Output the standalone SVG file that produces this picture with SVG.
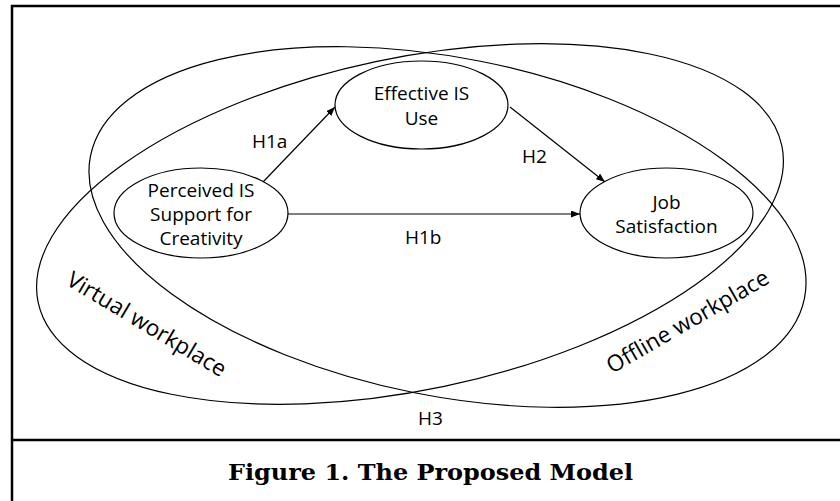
<svg xmlns="http://www.w3.org/2000/svg" width="840" height="501" viewBox="0 0 840 501">
<defs>
<style>
.frame{stroke:#000;stroke-width:2.5;fill:none}
.ell{fill:none;stroke:#000;stroke-width:1.2}
.node{fill:#fff;stroke:#000;stroke-width:1.2}
.t{font-family:"Open Sans","Liberation Sans",sans-serif;font-size:19px;fill:#000}
.big{font-size:22.5px}
.c{text-anchor:middle}
.edge{stroke:#000;stroke-width:1.2;fill:none;marker-end:url(#ah)}
.cap{font-family:"DejaVu Serif","Liberation Serif",serif;font-weight:bold;font-size:22px;fill:#000;text-anchor:middle}
</style>
<marker id="ah" markerUnits="userSpaceOnUse" markerWidth="9" markerHeight="7" refX="9" refY="3.5" orient="auto">
<path d="M0,0 L9,3.5 L0,7 z" fill="#000"/>
</marker>
</defs>
<rect width="840" height="501" fill="#fff"/>
<g id="frame">
<path class="frame" d="M12,501 V6 H840"/>
<path class="frame" d="M12,440 H840"/>
</g>
<g id="virtual-workplace">
<ellipse class="ell" cx="410" cy="224" rx="380" ry="166" transform="rotate(-11.9 410 224)"/>
<text class="t big" transform="translate(65,284) rotate(31)">Virtual workplace</text>
</g>
<g id="offline-workplace">
<ellipse class="ell" cx="447.5" cy="227" rx="364" ry="169" transform="rotate(11.25 447.5 227)"/>
<text class="t big" transform="translate(612,374) rotate(-30)">Offline workplace</text>
</g>
<g id="connectors">
<line class="edge" x1="263" y1="182" x2="335" y2="107"/>
<line class="edge" x1="510" y1="107" x2="605" y2="182"/>
<line class="edge" x1="288" y1="214" x2="580" y2="214"/>
<text class="t" x="252" y="148">H1a</text>
<text class="t" x="522" y="163">H2</text>
<text class="t" x="405" y="244">H1b</text>
<text class="t" x="418" y="425">H3</text>
</g>
<g id="perceived">
<ellipse class="node" cx="201" cy="213" rx="87" ry="45"/>
<text class="t c" x="201" y="197">Perceived IS</text>
<text class="t c" x="201" y="221">Support for</text>
<text class="t c" x="201" y="245">Creativity</text>
</g>
<g id="effective">
<ellipse class="node" cx="421.5" cy="105" rx="86.5" ry="44"/>
<text class="t c" x="421.5" y="100">Effective IS</text>
<text class="t c" x="421.5" y="125">Use</text>
</g>
<g id="job">
<ellipse class="node" cx="666.5" cy="213" rx="86.5" ry="45"/>
<text class="t c" x="666.5" y="209">Job</text>
<text class="t c" x="666.5" y="233">Satisfaction</text>
</g>
<g id="caption">
<text class="cap" x="430.5" y="480" textLength="405" lengthAdjust="spacingAndGlyphs">Figure 1. The Proposed Model</text>
</g>
</svg>
